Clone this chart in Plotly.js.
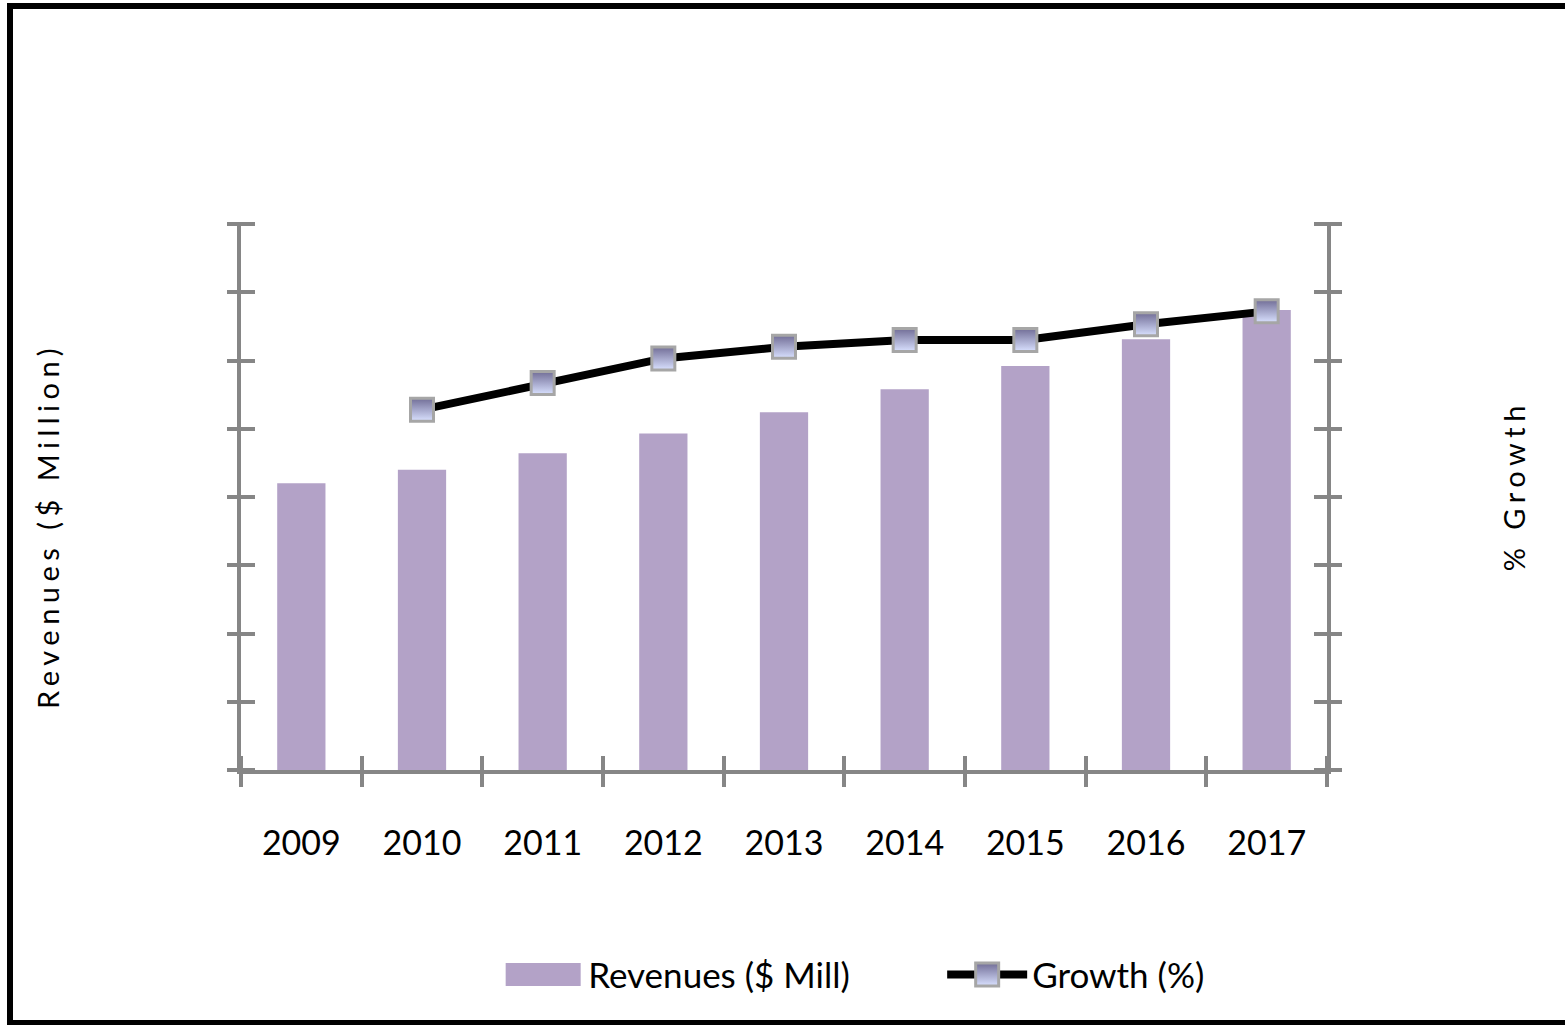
<!DOCTYPE html>
<html>
<head>
<meta charset="utf-8">
<script src="https://cdn.plot.ly/plotly-3.0.1.min.js"></script>
<style>
  html, body { margin: 0; padding: 0; background: #fff; overflow: hidden; }
  #chart { width: 1565px; height: 1025px; }
  #frame { position: absolute; left: 7px; top: 3px; width: 1600px; height: 1023px; border: 6px solid #000; pointer-events: none; box-sizing: border-box; }
  .annotation-text { letter-spacing: 5.5px; }
</style>
</head>
<body>
<div id="chart"></div>
<div id="frame"></div>
<script>
// Data (axis units are unlabelled in the source)
const years = ['2009', '2010', '2011', '2012', '2013', '2014', '2015', '2016', '2017'];
const revenues = [4.2, 4.4, 4.64, 4.93, 5.24, 5.58, 5.92, 6.31, 6.74];
const growth = [null, 5.28, 5.67, 6.03, 6.2, 6.3, 6.3, 6.53, 6.72];
const leftTitle = 'Revenues ($ Million)';
const rightTitle = '% Growth';

const gray = '#868686';
const fontFam = 'Lato, "Open Sans", sans-serif';

const traces = [
  {
    type: 'bar', name: 'Revenues ($ Mill)', x: years, y: revenues,
    width: 0.4, marker: { color: '#B3A2C7', line: { width: 0 } },
    xaxis: 'x', yaxis: 'y', hoverinfo: 'x+y'
  },
  {
    type: 'scatter', mode: 'lines+markers', name: 'Growth (%)', x: years, y: growth,
    xaxis: 'x', yaxis: 'y2', connectgaps: false,
    line: { color: '#000000', width: 8 },
    marker: {
      symbol: 'square', size: 23, color: '#716D96',
      gradient: { type: 'vertical', color: '#D9E1FF' },
      line: { color: '#A6A6A6', width: 3 }
    }
  },
  // invisible helpers: they carry the tick axes whose marks cross the axis lines
  { type: 'scatter', mode: 'markers', x: years, y: revenues, xaxis: 'x2', yaxis: 'y3', showlegend: false, hoverinfo: 'skip', marker: { opacity: 0 } },
  { type: 'scatter', mode: 'markers', x: years, y: revenues, xaxis: 'x', yaxis: 'y4', showlegend: false, hoverinfo: 'skip', marker: { opacity: 0 } }
];

const axBase = {
  showgrid: false, zeroline: false, showline: true,
  linecolor: gray, linewidth: 4, tickcolor: gray, tickwidth: 4
};
const tickAxis = {
  showgrid: false, zeroline: false, showline: false, showticklabels: false,
  tickcolor: gray, tickwidth: 4, ticks: 'outside'
};

const layout = {
  width: 1565, height: 1025,
  margin: { l: 241, r: 238, t: 224, b: 255 },
  paper_bgcolor: '#ffffff', plot_bgcolor: '#ffffff',
  font: { family: fontFam, color: '#000000' },
  showlegend: true,
  xaxis: Object.assign({}, axBase, {
    type: 'category', range: [-0.5, 8.5], ticks: '',
    tickfont: { size: 34, family: fontFam, color: '#000' },
    ticklabelstandoff: 40
  }),
  // tick marks crossing the bottom axis line
  xaxis2: Object.assign({}, tickAxis, {
    type: 'category', range: [-0.5, 8.5], tickson: 'boundaries',
    overlaying: 'x', anchor: 'free', position: 0.0275, side: 'bottom', ticklen: 31
  }),
  yaxis: Object.assign({}, axBase, {
    range: [0, 8], dtick: 1, ticks: '', showticklabels: false
  }),
  yaxis2: Object.assign({}, axBase, {
    range: [0, 8], dtick: 1, ticks: '', showticklabels: false,
    overlaying: 'y', side: 'right', anchor: 'x'
  }),
  // tick marks crossing the left / right axis lines
  yaxis3: Object.assign({}, tickAxis, {
    range: [0, 8], dtick: 1, overlaying: 'y', side: 'left',
    anchor: 'free', position: 0.0129, ticklen: 28
  }),
  yaxis4: Object.assign({}, tickAxis, {
    range: [0, 8], dtick: 1, overlaying: 'y', side: 'right',
    anchor: 'free', position: 0.9871, ticklen: 28
  }),
  annotations: [
    {
      text: leftTitle, xref: 'paper', yref: 'paper', x: -0.1777, y: 0.447,
      xanchor: 'center', yanchor: 'middle', textangle: -90, showarrow: false,
      font: { size: 29, family: fontFam, color: '#000' }
    },
    {
      text: rightTitle, xref: 'paper', yref: 'paper', x: 1.1715, y: 0.52,
      xanchor: 'center', yanchor: 'middle', textangle: -90, showarrow: false,
      font: { size: 29, family: fontFam, color: '#000' }
    }
  ],
  legend: {
    orientation: 'h', x: 0.2368, xanchor: 'left', y: -0.375, yanchor: 'middle',
    font: { size: 35, family: fontFam, color: '#000' },
    itemwidth: 80, entrywidth: 349, entrywidthmode: 'pixels',
    bgcolor: 'rgba(0,0,0,0)'
  }
};

function fixLegend(gd) {
  const items = gd.querySelectorAll('.legend .traces');
  items.forEach(function (item) {
    const txt = item.querySelector('.legendtext');
    const name = txt ? txt.textContent : '';
    if (name.indexOf('Revenues') === 0) {
      const p = item.querySelector('.legendpoints path');
      if (p) p.setAttribute('d', 'M-37.5,11.5H37.5V-11.5H-37.5Z');
    } else if (name.indexOf('Growth') === 0) {
      const pts = item.querySelectorAll('path.scatterpts');
      pts.forEach(function (p) { p.setAttribute('d', 'M11.5,11.5H-11.5V-11.5H11.5Z'); });
    }
  });
}

Plotly.newPlot('chart', traces, layout, { displayModeBar: false, staticPlot: true }).then(fixLegend);
</script>
</body>
</html>
